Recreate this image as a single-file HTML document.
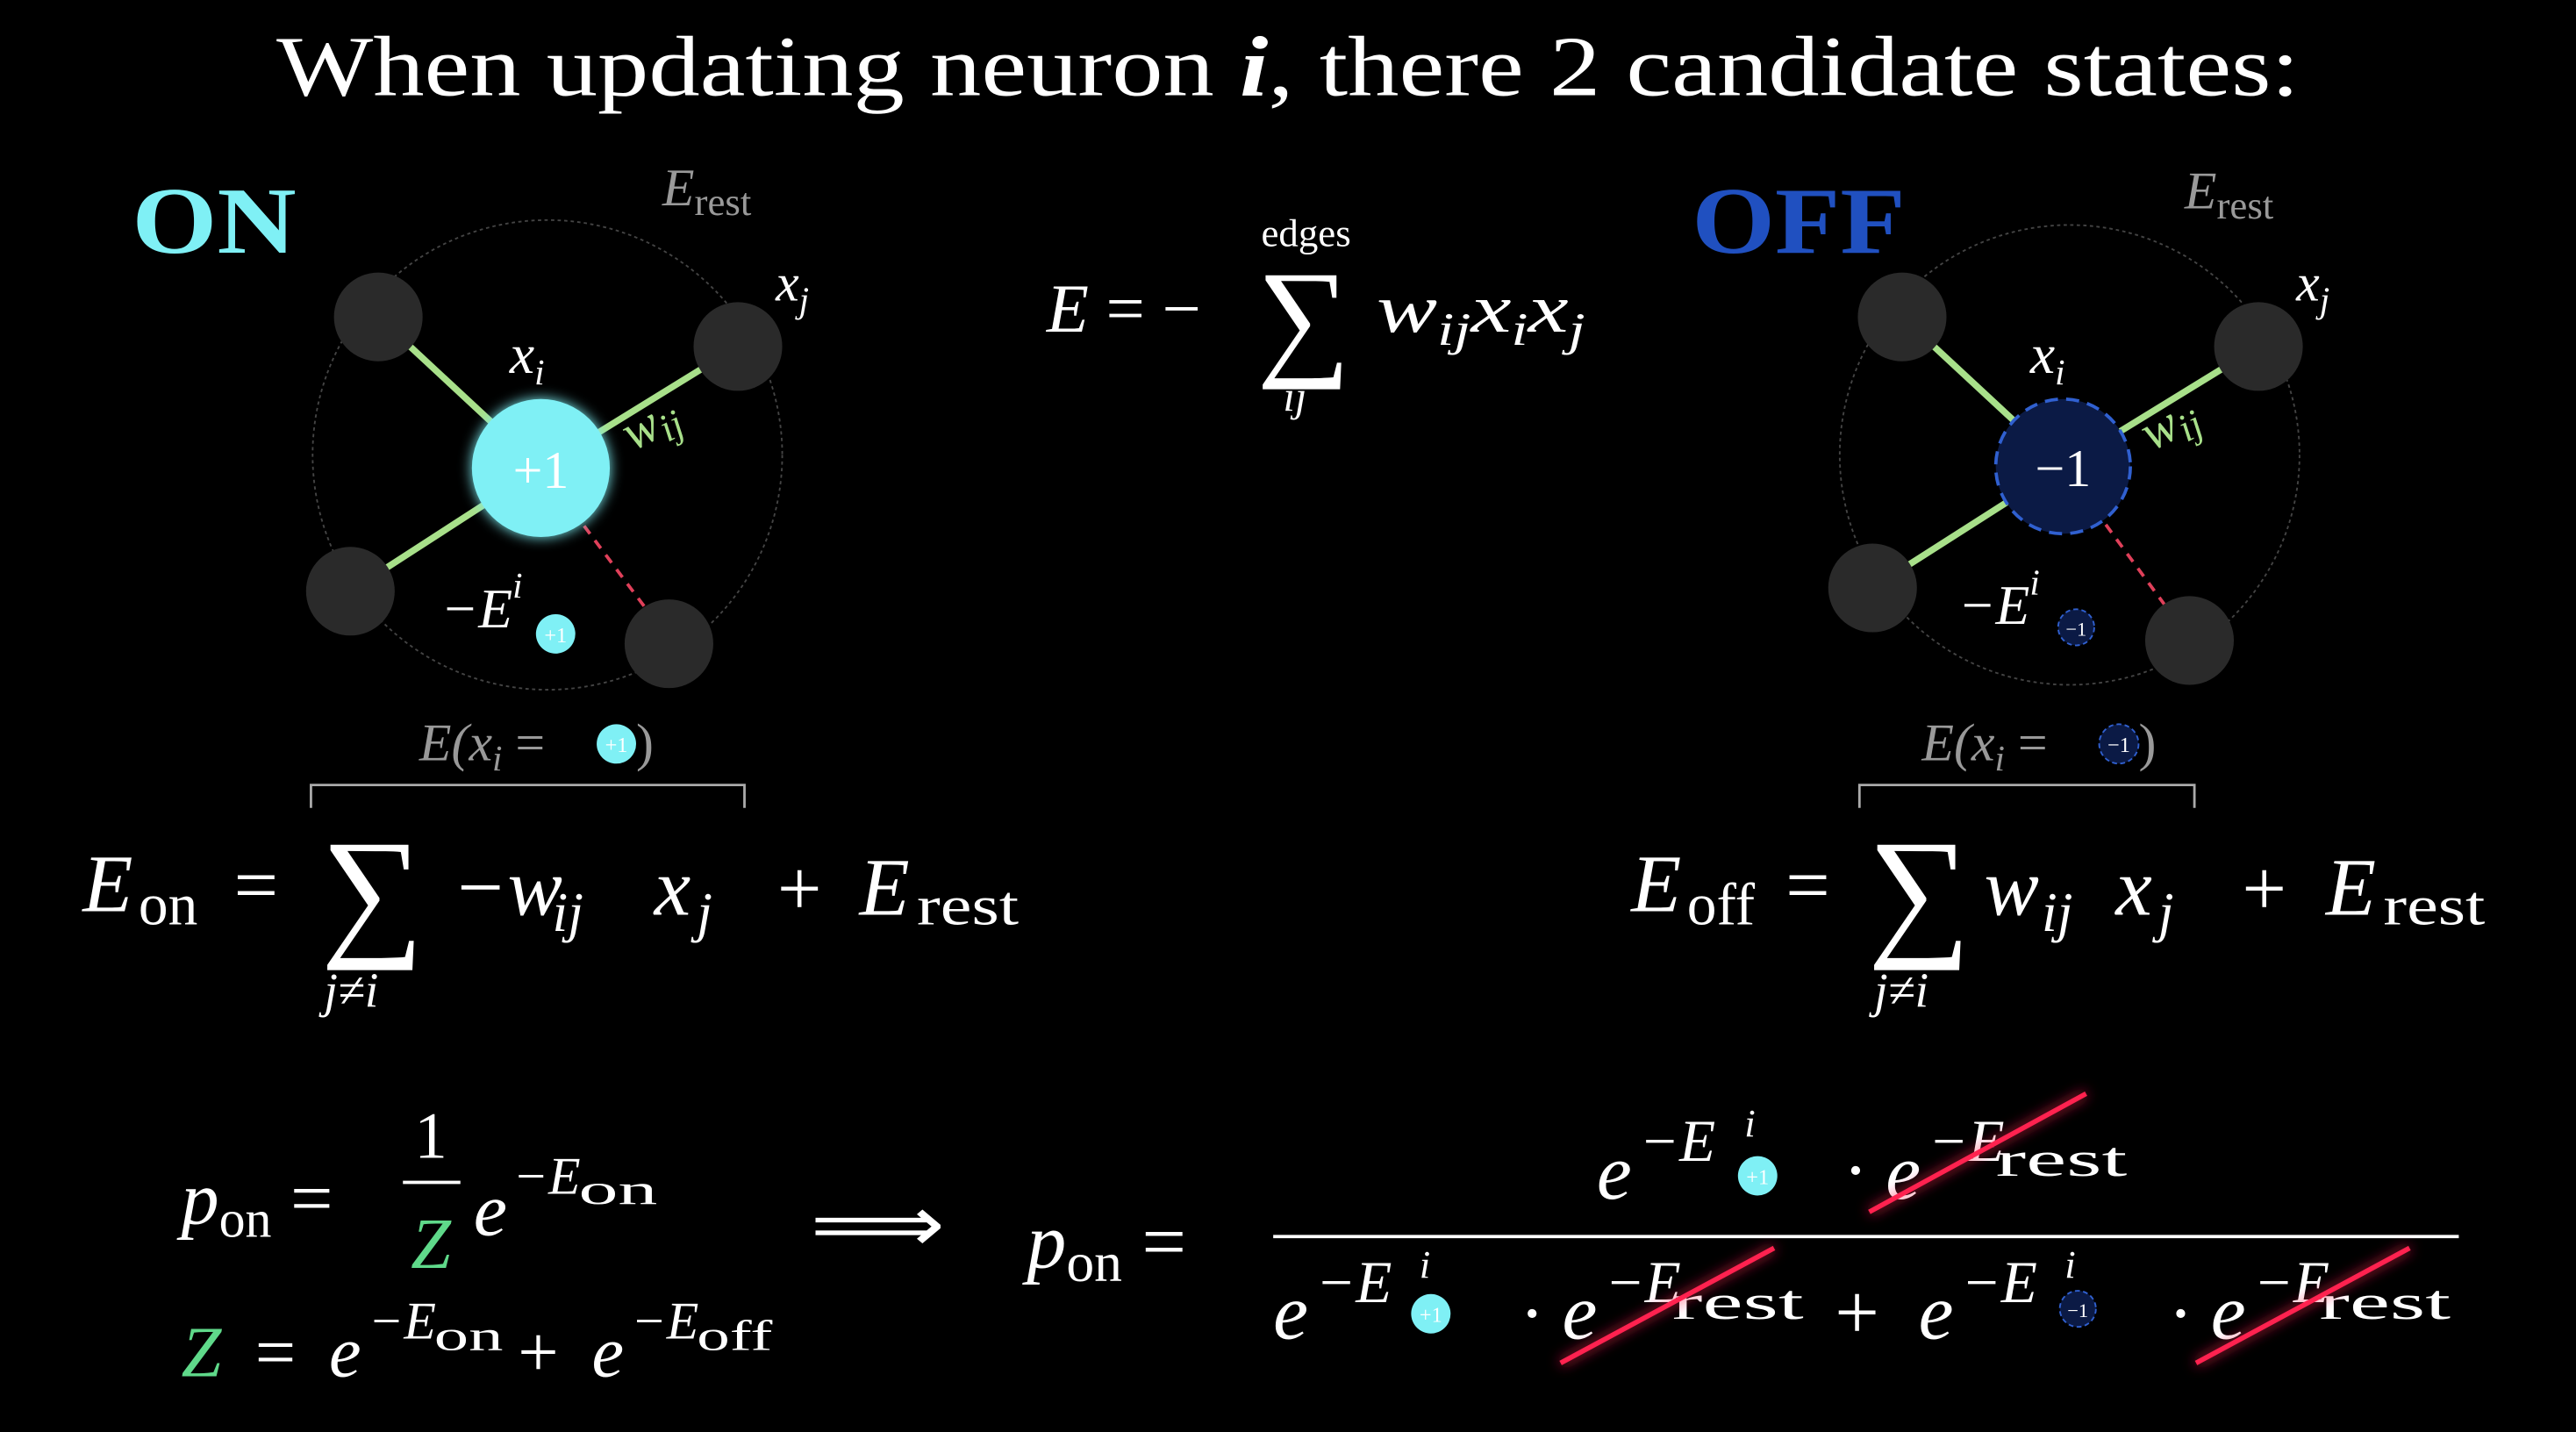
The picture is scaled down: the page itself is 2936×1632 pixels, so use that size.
<!DOCTYPE html>
<html><head><meta charset="utf-8"><style>
html,body{margin:0;padding:0;background:#000;}
svg{display:block;}
text{font-family:"Liberation Serif",serif;fill:#fff;}
.it{font-style:italic;}
</style></head><body>
<svg width="2936" height="1632" viewBox="0 0 1568 872" xmlns="http://www.w3.org/2000/svg">
<defs>
<filter id="glow" x="-50%" y="-50%" width="200%" height="200%"><feGaussianBlur stdDeviation="4" result="b"/><feMerge><feMergeNode in="b"/><feMergeNode in="SourceGraphic"/></feMerge></filter>
</defs>
<rect width="1568" height="872" fill="#000"/>
<text x="168" y="58" font-size="52" textLength="1232" lengthAdjust="spacingAndGlyphs">When updating neuron <tspan class="it" font-weight="bold">i</tspan>, there 2 candidate states:</text>

<!-- ON diagram -->
<g>
<text x="80" y="154" font-size="58" font-weight="bold" style="fill:#7ff0f5" textLength="100" lengthAdjust="spacingAndGlyphs">ON</text>
<circle cx="333" cy="277" r="143" fill="none" stroke="#444" stroke-width="1" stroke-dasharray="2,2"/>
<line x1="329" y1="285" x2="230" y2="193" stroke="#a8e08a" stroke-width="4"/>
<line x1="329" y1="285" x2="449" y2="211" stroke="#a8e08a" stroke-width="4"/>
<line x1="329" y1="285" x2="213" y2="360" stroke="#a8e08a" stroke-width="4"/>
<line x1="329" y1="285" x2="400" y2="380" stroke="#e0405a" stroke-width="2" stroke-dasharray="6,5"/>
<circle cx="230" cy="193" r="27" fill="#2a2a2a"/>
<circle cx="449" cy="211" r="27" fill="#2a2a2a"/>
<circle cx="213" cy="360" r="27" fill="#2a2a2a"/>
<circle cx="407" cy="392" r="27" fill="#2a2a2a"/>
<circle cx="329" cy="285" r="42" fill="#7ff0f5" filter="url(#glow)"/>
<text x="329" y="297" font-size="32" text-anchor="middle">+1</text>
<text class="it" x="403" y="125" font-size="32" style="fill:#999">E<tspan font-style="normal" font-size="24" dy="6">rest</tspan></text>
<text class="it" x="472" y="183" font-size="32">x<tspan font-size="22" dy="7">j</tspan></text>
<text class="it" x="310" y="227" font-size="34">x<tspan font-size="22" dy="7">i</tspan></text>
<text class="it" x="385" y="275" font-size="32" transform="rotate(-28 385 275)" style="fill:#a8e08a">w<tspan font-size="24" dy="5">ij</tspan></text>
<text class="it" x="268" y="382" font-size="34">−E<tspan font-size="22" dy="-18">i</tspan></text>
<circle cx="338" cy="386" r="12" fill="#7ff0f5"/>
<text x="338" y="391" font-size="13" text-anchor="middle">+1</text>
<text class="it" x="255" y="463" font-size="32" style="fill:#999">E(x<tspan font-size="22" dy="6">i</tspan><tspan dy="-6" font-style="normal"> =</tspan></text>
<circle cx="375" cy="453" r="12" fill="#7ff0f5"/>
<text x="375" y="458" font-size="13" text-anchor="middle">+1</text>
<text x="387" y="463" font-size="32" style="fill:#999">)</text>
<path d="M189,492 V478 H453 V492" fill="none" stroke="#aaa" stroke-width="1.5"/>
</g>
<g>
<text class="it" x="50" y="555" font-size="50">E</text>
<text x="84" y="563" font-size="36">on</text>
<text x="142" y="555" font-size="48">=</text>
<text x="195" y="572" font-size="88">∑</text>
<text class="it" x="197" y="613" font-size="30">j≠i</text>
<text class="it" x="275" y="557" font-size="50">−w</text>
<text class="it" x="336" y="567" font-size="34">ij</text>
<text class="it" x="398" y="557" font-size="50">x</text>
<text class="it" x="424" y="567" font-size="34">j</text>
<text x="473" y="557" font-size="48">+</text>
<text class="it" x="523" y="557" font-size="50">E</text>
<text x="558" y="563" font-size="34" textLength="62" lengthAdjust="spacingAndGlyphs">rest</text>
</g>

<!-- middle energy -->
<g>
<text x="795" y="150" font-size="24" text-anchor="middle">edges</text>
<text class="it" x="637" y="202" font-size="42">E <tspan font-style="normal">= −</tspan></text>
<text x="765" y="220" font-size="80">∑</text>
<text class="it" x="781" y="250" font-size="26">ij</text>
<text class="it" x="838" y="202" font-size="42" textLength="127" lengthAdjust="spacingAndGlyphs">w<tspan font-size="28" dy="8">ij</tspan><tspan dy="-8">x</tspan><tspan font-size="28" dy="8">i</tspan><tspan dy="-8">x</tspan><tspan font-size="28" dy="8">j</tspan></text>
</g>

<!-- OFF diagram -->
<g>
<text x="1030" y="154" font-size="58" font-weight="bold" style="fill:#2050c0" textLength="130" lengthAdjust="spacingAndGlyphs">OFF</text>
<circle cx="1260" cy="277" r="140" fill="none" stroke="#444" stroke-width="1" stroke-dasharray="2,2"/>
<line x1="1256" y1="284" x2="1158" y2="193" stroke="#a8e08a" stroke-width="4"/>
<line x1="1256" y1="284" x2="1375" y2="211" stroke="#a8e08a" stroke-width="4"/>
<line x1="1256" y1="284" x2="1140" y2="358" stroke="#a8e08a" stroke-width="4"/>
<line x1="1256" y1="284" x2="1325" y2="378" stroke="#e0405a" stroke-width="2" stroke-dasharray="6,5"/>
<circle cx="1158" cy="193" r="27" fill="#2a2a2a"/>
<circle cx="1375" cy="211" r="27" fill="#2a2a2a"/>
<circle cx="1140" cy="358" r="27" fill="#2a2a2a"/>
<circle cx="1333" cy="390" r="27" fill="#2a2a2a"/>
<circle cx="1256" cy="284" r="41" fill="#0b1a45" stroke="#3060d0" stroke-width="2" stroke-dasharray="8,5"/>
<text x="1256" y="296" font-size="32" text-anchor="middle">−1</text>
<text class="it" x="1330" y="127" font-size="32" style="fill:#999">E<tspan font-style="normal" font-size="24" dy="6">rest</tspan></text>
<text class="it" x="1398" y="183" font-size="32">x<tspan font-size="22" dy="7">j</tspan></text>
<text class="it" x="1236" y="227" font-size="34">x<tspan font-size="22" dy="7">i</tspan></text>
<text class="it" x="1310" y="275" font-size="32" transform="rotate(-28 1310 275)" style="fill:#a8e08a">w<tspan font-size="24" dy="5">ij</tspan></text>
<text class="it" x="1192" y="380" font-size="34">−E<tspan font-size="22" dy="-18">i</tspan></text>
<circle cx="1264" cy="382" r="11" fill="#0b1a45" stroke="#3060d0" stroke-dasharray="3,2"/>
<text x="1264" y="387" font-size="12" text-anchor="middle">−1</text>
<text class="it" x="1170" y="463" font-size="32" style="fill:#999">E(x<tspan font-size="22" dy="6">i</tspan><tspan dy="-6" font-style="normal"> =</tspan></text>
<circle cx="1290" cy="453" r="12" fill="#0b1a45" stroke="#3060d0" stroke-dasharray="3,2"/>
<text x="1290" y="458" font-size="13" text-anchor="middle">−1</text>
<text x="1302" y="463" font-size="32" style="fill:#999">)</text>
<path d="M1132,492 V478 H1336 V492" fill="none" stroke="#aaa" stroke-width="1.5"/>
</g>
<g>
<text class="it" x="993" y="555" font-size="50">E</text>
<text x="1027" y="563" font-size="36">off</text>
<text x="1087" y="555" font-size="48">=</text>
<text x="1137" y="572" font-size="88">∑</text>
<text class="it" x="1141" y="613" font-size="30">j≠i</text>
<text class="it" x="1208" y="557" font-size="50">w</text>
<text class="it" x="1243" y="567" font-size="34">ij</text>
<text class="it" x="1288" y="557" font-size="50">x</text>
<text class="it" x="1314" y="567" font-size="34">j</text>
<text x="1365" y="557" font-size="48">+</text>
<text class="it" x="1416" y="557" font-size="50">E</text>
<text x="1451" y="563" font-size="34" textLength="62" lengthAdjust="spacingAndGlyphs">rest</text>
</g>

<!-- bottom left -->
<g>
<text class="it" x="110" y="745" font-size="46">p<tspan font-style="normal" font-size="32" dy="8">on</tspan><tspan font-style="normal" dy="-8"> =</tspan></text>
<text x="262" y="705" font-size="40" text-anchor="middle">1</text>
<line x1="245" y1="720" x2="280" y2="720" stroke="#fff" stroke-width="2"/>
<text class="it" x="262" y="772" font-size="44" text-anchor="middle" style="fill:#5fd98a">Z</text>
<text class="it" x="288" y="752" font-size="46">e</text>
<text class="it" x="312" y="727" font-size="32">−E</text>
<text x="352" y="733" font-size="26" textLength="48" lengthAdjust="spacingAndGlyphs">on</text>
<text class="it" x="110" y="838" font-size="44" style="fill:#5fd98a">Z</text>
<text x="155" y="838" font-size="44">=</text>
<text class="it" x="200" y="838" font-size="44">e</text>
<text class="it" x="224" y="815" font-size="32">−E</text>
<text x="264" y="822" font-size="26" textLength="42" lengthAdjust="spacingAndGlyphs">on</text>
<text x="315" y="838" font-size="44">+</text>
<text class="it" x="360" y="838" font-size="44">e</text>
<text class="it" x="384" y="815" font-size="32">−E</text>
<text x="424" y="822" font-size="26" textLength="46" lengthAdjust="spacingAndGlyphs">off</text>
</g>
<text x="493" y="762" font-size="48" textLength="82" lengthAdjust="spacingAndGlyphs">⟹</text>

<!-- big fraction -->
<g>
<text class="it" x="625" y="772" font-size="48">p<tspan font-style="normal" font-size="34" dy="8">on</tspan><tspan font-style="normal" dy="-8"> =</tspan></text>
<line x1="775" y1="753" x2="1497" y2="753" stroke="#fff" stroke-width="2"/>
<!-- numerator -->
<text class="it" x="972" y="730" font-size="48">e</text>
<text class="it" x="998" y="707" font-size="36">−E</text>
<text class="it" x="1062" y="692" font-size="24">i</text>
<circle cx="1070" cy="716" r="12" fill="#7ff0f5"/><text x="1070" y="721" font-size="13" text-anchor="middle">+1</text>
<text x="1122" y="728" font-size="46">·</text>
<text class="it" x="1148" y="730" font-size="48">e</text>
<text class="it" x="1174" y="707" font-size="36">−E</text>
<text x="1215" y="716" font-size="30" textLength="80" lengthAdjust="spacingAndGlyphs">rest</text>
<line x1="1138" y1="738" x2="1270" y2="666" stroke="#ff2050" stroke-width="3" filter="url(#glow)"/>
<!-- denominator -->
<text class="it" x="775" y="815" font-size="48">e</text>
<text class="it" x="801" y="793" font-size="36">−E</text>
<text class="it" x="864" y="778" font-size="24">i</text>
<circle cx="871" cy="800" r="12" fill="#7ff0f5"/><text x="871" y="805" font-size="13" text-anchor="middle">+1</text>
<text x="925" y="815" font-size="46">·</text>
<text class="it" x="951" y="815" font-size="48">e</text>
<text class="it" x="977" y="793" font-size="36">−E</text>
<text x="1018" y="803" font-size="30" textLength="80" lengthAdjust="spacingAndGlyphs">rest</text>
<line x1="950" y1="830" x2="1080" y2="760" stroke="#ff2050" stroke-width="3" filter="url(#glow)"/>
<text x="1117" y="815" font-size="48">+</text>
<text class="it" x="1168" y="815" font-size="48">e</text>
<text class="it" x="1194" y="793" font-size="36">−E</text>
<text class="it" x="1257" y="778" font-size="24">i</text>
<circle cx="1265" cy="797" r="11" fill="#0b1a45" stroke="#3060d0" stroke-dasharray="3,2"/><text x="1265" y="802" font-size="12" text-anchor="middle">−1</text>
<text x="1320" y="815" font-size="46">·</text>
<text class="it" x="1346" y="815" font-size="48">e</text>
<text class="it" x="1372" y="793" font-size="36">−E</text>
<text x="1412" y="803" font-size="30" textLength="80" lengthAdjust="spacingAndGlyphs">rest</text>
<line x1="1337" y1="830" x2="1467" y2="760" stroke="#ff2050" stroke-width="3" filter="url(#glow)"/>
</g>
</svg>
</body></html>
